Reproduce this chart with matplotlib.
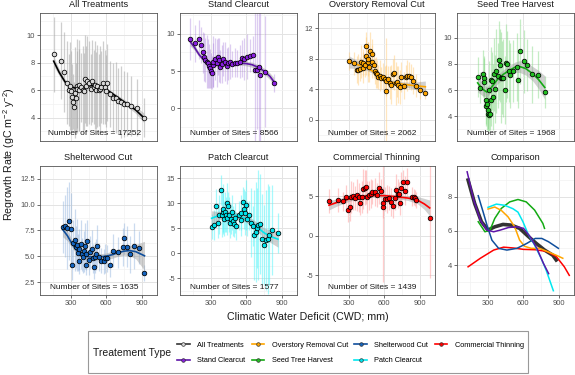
import numpy as np
import matplotlib.pyplot as plt
from matplotlib.lines import Line2D
from matplotlib.patches import Rectangle
from matplotlib.transforms import blended_transform_factory

plt.rcParams['font.family'] = ['Liberation Sans', 'DejaVu Sans']
plt.rcParams['mathtext.fontset'] = 'custom'
plt.rcParams['mathtext.rm'] = 'Liberation Sans'
plt.rcParams['mathtext.it'] = 'Liberation Sans:italic'

# ---- data ----
# All Treatments
x_all = [154, 215, 243, 264, 283, 292, 300, 306, 314, 325, 334, 342, 348, 353, 365, 372, 385, 399, 410, 418,
         430, 438, 455, 467, 475, 494, 505, 511, 525, 539, 548, 559, 573, 585, 596, 610, 630, 658, 680, 700,
         729, 751, 779, 813, 860, 917]
y_all = [8.59, 8.12, 7.34, 6.54, 6.0, 6.3, 5.95, 5.5, 5.15, 4.78, 5.8, 5.46, 6.3, 6.07, 6.34, 6.0, 6.2, 6.0, 5.9, 6.8,
         6.3, 6.66, 6.54, 6.05, 6.66, 6.2, 6.4, 6.0, 6.29, 6.0, 6.1, 6.24, 6.54, 6.2, 5.95, 6.54, 5.7, 5.46, 5.46, 5.22,
         5.15, 5.02, 4.98, 4.83, 4.73, 4.0]
sd_all = [2.7, 2.8, 2.9, 3.0, 2.6, 3.2, 2.9, 2.4, 2.0, 1.8, 3.3, 2.5, 3.4, 2.8, 3.3, 3.0, 2.5, 3.2, 2.8, 3.2,
          2.9, 3.3, 3.0, 2.6, 3.0, 2.7, 3.2, 2.8, 3.0, 2.6, 3.1, 2.6, 3.0, 2.7, 2.6, 2.8, 2.4, 2.5, 2.6, 2.4,
          2.6, 2.4, 2.3, 2.2, 2.1, 1.4]
sx_all = [154, 200, 250, 300, 350, 400, 450, 500, 550, 600, 650, 700, 750, 800, 850, 917]
sy_all = [8.1, 7.3, 6.6, 6.25, 6.1, 6.15, 6.3, 6.35, 6.3, 6.05, 5.75, 5.45, 5.15, 4.85, 4.55, 4.0]
se_all = [0.35, 0.25, 0.2, 0.18, 0.15, 0.15, 0.15, 0.15, 0.15, 0.15, 0.15, 0.15, 0.18, 0.2, 0.25, 0.35]

# Stand Clearcut
x_sc = [122, 165, 201, 215, 230, 243, 249, 264, 277, 283, 292, 298, 306, 314, 320, 334, 348, 356, 370, 376,
        390, 404, 418, 433, 447, 461, 483, 503, 525, 545, 562, 581, 602, 630, 658, 672, 695, 708, 720, 762, 833]
y_sc = [9.28, 8.74, 9.28, 8.5, 7.5, 6.86, 6.5, 6.28, 6.05, 5.7, 5.38, 5.07, 4.8, 5.83, 6.28, 6.6, 6.05, 6.95, 6.5, 5.6,
        5.96, 6.6, 6.28, 5.7, 6.05, 6.28, 5.96, 6.14, 6.05, 6.28, 6.73, 6.6, 6.95, 7.04, 7.18, 5.16, 5.16, 5.6, 4.5, 4.93, 3.45]
sd_sc = [2.8, 2.5, 2.6, 2.4, 2.8, 3.2, 3.0, 3.5, 3.3, 3.0, 2.6, 2.4, 2.2, 3.0, 3.4, 2.8, 3.2, 2.5, 3.0, 2.2,
         2.5, 2.3, 2.6, 2.4, 2.2, 2.3, 1.8, 2.0, 1.8, 2.2, 2.5, 2.8, 3.0, 2.2, 2.5, 9.5, 8.0, 10.0, 9.0, 7.5, 1.2]
sx_sc = [122, 160, 200, 250, 300, 350, 400, 450, 500, 550, 600, 650, 700, 750, 800, 833]
sy_sc = [9.0, 8.2, 7.2, 6.3, 5.85, 5.8, 5.9, 6.0, 6.05, 6.05, 6.0, 5.85, 5.5, 5.0, 4.3, 3.6]
se_sc = [0.6, 0.4, 0.3, 0.25, 0.25, 0.25, 0.25, 0.25, 0.25, 0.25, 0.3, 0.35, 0.35, 0.4, 0.45, 0.55]

# Overstory Removal Cut
x_or = [300, 342, 365, 379, 393, 401, 416, 421, 435, 441, 449, 458, 463, 472, 483, 492, 500, 511, 520, 528,
        540, 548, 562, 576, 590, 604, 613, 618, 632, 646, 660, 674, 683, 697, 708, 720, 731, 745, 765, 782,
        796, 810, 824, 844, 866, 900, 948]
y_or = [7.69, 7.45, 6.59, 6.59, 6.7, 7.65, 7.5, 6.86, 7.18, 8.35, 9.73, 7.57, 7.96, 6.98, 9.06, 8.63, 7.65, 7.25, 6.47, 6.2,
        6.0, 5.6, 5.8, 5.49, 5.69, 5.41, 3.73, 5.14, 5.41, 4.9, 4.63, 6.0, 6.2, 4.82, 5.02, 4.63, 4.35, 5.6, 4.51, 5.6,
        5.8, 5.8, 5.6, 5.14, 4.51, 3.92, 3.53]
sd_or = [1.2, 1.5, 1.8, 2.0, 1.6, 2.2, 1.8, 2.0, 1.5, 2.5, 1.8, 2.6, 2.2, 2.0, 2.5, 2.0, 2.2, 1.8, 1.7, 2.0,
         1.8, 1.6, 2.0, 1.5, 1.8, 1.6, 7.0, 2.0, 1.6, 2.2, 2.5, 2.0, 2.3, 2.8, 2.0, 2.4, 2.2, 2.0, 1.8, 1.6,
         2.0, 1.8, 1.7, 1.8, 1.5, 1.2, 0.8]
sx_or = [300, 350, 400, 450, 500, 550, 600, 650, 700, 750, 800, 850, 900, 948]
sy_or = [7.6, 7.35, 7.1, 6.85, 6.4, 5.8, 5.35, 5.0, 4.8, 4.7, 4.6, 4.5, 4.42, 4.35]
se_or = [0.8, 0.6, 0.45, 0.35, 0.3, 0.3, 0.3, 0.3, 0.3, 0.3, 0.35, 0.45, 0.6, 0.75]

# Seed Tree Harvest
x_st = [213, 232, 255, 266, 269, 281, 283, 289, 297, 303, 308, 311, 317, 323, 325, 331, 340, 351, 359, 368,
        382, 393, 401, 410, 421, 430, 444, 452, 463, 475, 486, 514, 543, 556, 571, 604, 632, 678, 725, 782]
y_st = [7.0, 6.18, 7.25, 6.95, 6.62, 5.22, 4.76, 4.96, 4.45, 4.2, 4.07, 6.0, 4.15, 5.22, 6.8, 6.7, 5.47, 7.2, 6.1, 7.45,
        7.1, 8.27, 7.9, 6.95, 6.95, 6.92, 6.03, 8.07, 7.96, 7.45, 7.12, 7.45, 7.8, 6.8, 8.96, 8.2, 7.9, 7.2, 7.18, 5.85]
sd_st = [1.5, 1.2, 1.8, 1.5, 2.0, 1.8, 1.5, 2.0, 1.4, 1.3, 1.2, 2.2, 1.2, 2.0, 2.5, 2.2, 2.5, 2.8, 2.6, 3.2,
         2.5, 3.0, 2.8, 3.5, 2.8, 3.0, 2.6, 3.0, 2.6, 2.4, 2.5, 2.4, 2.6, 2.2, 2.5, 2.4, 2.0, 2.2, 1.8, 1.2]
sx_st = [213, 250, 290, 330, 380, 430, 480, 530, 570, 620, 680, 730, 782]
sy_st = [6.55, 6.1, 5.85, 6.2, 6.8, 7.2, 7.5, 7.75, 7.8, 7.65, 7.25, 6.8, 6.2]
se_st = [0.7, 0.5, 0.4, 0.35, 0.35, 0.35, 0.35, 0.4, 0.45, 0.5, 0.55, 0.7, 0.9]

# Shelterwood Cut
x_sw = [230, 249, 264, 283, 300, 310, 320, 334, 342, 353, 362, 366, 370, 382, 390, 399, 410, 418, 427, 432,
        438, 450, 461, 475, 489, 500, 505, 517, 522, 539, 559, 583, 590, 605, 630, 660, 700, 742, 748, 779,
        797, 838, 880, 924]
y_sw = [7.85, 7.94, 7.75, 8.4, 7.6, 4.2, 6.3, 6.57, 5.9, 6.1, 5.34, 4.5, 5.67, 6.16, 5.2, 4.93, 5.48, 6.0, 5.2, 4.2,
        6.5, 4.66, 5.4, 5.75, 4.8, 4.0, 4.93, 5.2, 6.0, 4.93, 4.58, 4.5, 4.8, 4.8, 4.2, 5.55, 5.4, 5.9, 6.76, 5.94,
        5.2, 6.0, 5.83, 3.4]
sd_sw = [2.5, 3.0, 4.0, 3.8, 3.5, 1.5, 2.2, 3.0, 2.0, 2.5, 1.8, 1.2, 2.0, 2.4, 1.6, 1.5, 2.0, 2.2, 1.5, 1.0,
         2.0, 1.5, 1.6, 1.8, 1.4, 1.2, 1.5, 1.5, 2.0, 1.4, 1.2, 1.2, 1.4, 1.3, 1.2, 1.6, 1.5, 1.8, 1.5, 2.0,
         1.8, 2.2, 1.6, 0.8]
sx_sw = [230, 270, 310, 350, 400, 450, 500, 550, 600, 650, 700, 750, 800, 850, 924]
sy_sw = [7.6, 7.0, 6.2, 5.55, 5.1, 4.95, 4.93, 4.95, 5.02, 5.15, 5.35, 5.5, 5.55, 5.45, 5.05]
se_sw = [0.7, 0.5, 0.4, 0.35, 0.3, 0.3, 0.3, 0.3, 0.3, 0.35, 0.35, 0.4, 0.5, 0.7, 1.4]

# Patch Clearcut
x_pc = [306, 325, 342, 356, 368, 382, 390, 399, 404, 410, 418, 427, 433, 438, 447, 455, 461, 469, 478, 489,
        494, 503, 517, 537, 551, 559, 573, 581, 590, 596, 607, 624, 644, 658, 666, 680, 692, 703, 720, 737,
        751, 765, 784, 793, 818, 869]
y_pc = [5.3, 5.63, 9.38, 6.14, 7.76, 12.6, 7.76, 8.2, 8.86, 6.9, 8.2, 7.76, 10.0, 7.1, 9.38, 7.76, 6.14, 6.9, 8.2, 6.47,
        5.82, 7.1, 5.5, 7.57, 6.66, 8.08, 10.35, 8.86, 8.08, 9.7, 6.9, 7.57, 6.14, 5.5, 3.7, 4.2, 5.0, 5.63, 5.82, 2.9,
        1.6, 2.6, 2.9, 3.55, 4.7, 4.07]
sd_pc = [2.5, 3.0, 3.5, 3.0, 4.0, 3.0, 4.5, 4.0, 5.0, 3.5, 4.0, 3.5, 4.0, 3.5, 3.0, 3.5, 3.0, 3.0, 3.5, 3.0,
         2.5, 3.0, 2.8, 3.0, 3.2, 3.5, 3.0, 4.0, 4.5, 5.0, 3.5, 3.0, 7.0, 4.0, 9.0, 10.0, 8.0, 11.0, 10.0, 9.0,
         8.0, 10.0, 11.0, 10.0, 9.0, 4.0]
sx_pc = [306, 350, 400, 450, 500, 550, 600, 650, 700, 750, 800, 869]
sy_pc = [7.0, 7.4, 7.75, 7.8, 7.65, 7.35, 6.9, 6.1, 5.1, 4.1, 3.4, 2.8]
se_pc = [1.5, 1.0, 0.7, 0.6, 0.6, 0.6, 0.7, 0.8, 0.9, 1.0, 1.2, 1.6]

# Commercial Thinning
x_ct = [131, 210, 247, 275, 294, 308, 314, 336, 351, 370, 385, 393, 407, 421, 435, 449, 455, 472, 486, 500,
        520, 534, 554, 568, 585, 590, 604, 624, 641, 661, 674, 689, 697, 717, 725, 731, 745, 759, 773, 796,
        838, 849, 858, 866, 985]
y_ct = [4.36, 4.47, 4.36, 4.85, 3.22, 3.6, 4.92, 5.0, 4.73, 5.1, 4.85, 4.1, 4.85, 5.87, 6.06, 6.14, 4.92, 5.1, 5.3, 5.5,
        5.5, 5.1, 5.98, 5.6, 3.6, 4.17, 4.62, 4.62, 4.73, 4.24, 3.7, 4.73, 5.76, 5.3, 5.22, 4.1, 6.06, 6.74, 5.68, 6.8,
        4.92, 4.85, 4.73, 4.55, 2.2]
sd_ct = [1.5, 1.5, 1.2, 1.5, 1.5, 1.8, 2.0, 1.8, 1.5, 2.0, 1.8, 1.5, 2.0, 2.5, 2.2, 2.2, 2.0, 1.8, 1.8, 1.5,
         1.8, 1.5, 2.0, 1.6, 9.5, 2.0, 1.5, 1.8, 1.5, 1.8, 1.5, 1.5, 2.0, 1.8, 1.5, 1.5, 2.0, 1.6, 1.8, 1.8,
         1.2, 1.0, 1.0, 1.0, 7.5]
sx_ct = [131, 200, 300, 400, 500, 600, 700, 800, 880, 940, 985]
sy_ct = [3.85, 4.2, 4.62, 4.95, 5.08, 5.05, 4.92, 4.75, 4.5, 4.0, 3.5]
se_ct = [0.6, 0.45, 0.3, 0.25, 0.25, 0.25, 0.25, 0.3, 0.45, 0.7, 1.0]

# Comparison curves
cx_all = [132, 188, 245, 301, 358, 428, 498, 569, 639, 710, 780, 850, 879]
cy_all = [8.98, 7.6, 6.54, 6.05, 6.24, 6.38, 6.34, 6.15, 5.7, 5.27, 4.88, 4.58, 4.3]
cx_sc = [124, 180, 236, 292, 349, 405, 475, 546, 602, 658, 715, 771, 815]
cy_sc = [9.46, 7.8, 6.63, 6.05, 5.95, 6.05, 6.2, 6.24, 6.15, 5.66, 4.98, 4.1, 3.5]
cx_or = [301, 358, 414, 470, 527, 569, 611, 668, 738, 808, 879, 935]
cy_or = [7.28, 7.4, 7.2, 6.83, 6.24, 5.46, 5.1, 4.98, 4.98, 4.78, 4.58, 4.4]
cx_st = [218, 275, 318, 358, 414, 485, 555, 625, 696, 766, 780]
cy_st = [6.54, 5.95, 6.05, 6.73, 7.32, 7.7, 7.84, 7.7, 7.22, 6.44, 6.15]
cx_sw = [218, 260, 292, 334, 391, 461, 546, 630, 701, 757, 813, 898]
cy_sw = [8.06, 7.1, 6.34, 5.46, 4.98, 4.88, 4.98, 5.27, 5.56, 5.56, 5.37, 4.98]
cx_pc = [301, 372, 442, 512, 555, 597, 639, 696, 752, 794, 855]
cy_pc = [7.38, 7.57, 7.5, 7.3, 7.1, 6.54, 5.85, 5.17, 4.39, 3.7, 2.5]
cx_ct = [132, 236, 349, 433, 518, 602, 700, 800, 880, 948, 990]
cy_ct = [3.9, 4.4, 4.88, 5.05, 5.0, 4.92, 4.9, 4.8, 4.5, 3.9, 3.4]

n_sites = [17252, 8566, 2062, 1968, 1635, 1577, 1439]
names = ['All Treatments', 'Stand Clearcut', 'Overstory Removal Cut', 'Seed Tree Harvest',
         'Shelterwood Cut', 'Patch Clearcut', 'Commercial Thinning']

# colours: (point fill, line, error bar, error bar alpha)
C_ALL = ('#D9D9D9', '#000000', '#A6A6A6', 0.55)
C_SC = ('#8A1FE0', '#5E14A8', '#A070D8', 0.35)
C_OR = ('#FFA500', '#FFA500', '#FFC870', 0.45)
C_ST = ('#22C022', '#13AA13', '#7FD87F', 0.45)
C_SW = ('#1565C0', '#0F4E9C', '#8CB0DC', 0.45)
C_PC = ('#00E5EE', '#00E8F0', '#50F5FA', 0.5)
C_CT = ('#FF0000', '#FF0000', '#FF9A9A', 0.5)

# ---- layout ----
W, H = 575, 375
fig = plt.figure(figsize=(W / 100, H / 100), dpi=100)
col_left = [40, 180, 318, 457]
pw = 117
rows = [(13, 141), (166, 295)]


def make_ax(col, row):
    t, b = rows[row]
    return fig.add_axes([col_left[col] / W, 1 - b / H, pw / W, (b - t) / H])


def style(ax, ylim, yticks, ylabels, title, bottom):
    ax.set_xlim(38, 1030)
    ax.set_ylim(*ylim)
    ax.set_xticks([300, 600, 900])
    ax.set_xticks([150, 450, 750], minor=True)
    ax.set_yticks(yticks)
    ax.set_yticklabels(ylabels)
    mids = [(a + b) / 2 for a, b in zip(yticks[:-1], yticks[1:])]
    mids = [yticks[0] - (yticks[1] - yticks[0]) / 2] + mids + [yticks[-1] + (yticks[1] - yticks[0]) / 2]
    ax.set_yticks(mids, minor=True)
    ax.grid(which='major', color='#E3E3E3', lw=0.7)
    ax.grid(which='minor', color='#F2F2F2', lw=0.5)
    ax.set_axisbelow(True)
    for s in ax.spines.values():
        s.set_color('#555555')
        s.set_linewidth(0.6)
    ax.tick_params(which='minor', length=0)
    ax.tick_params(axis='y', which='major', length=2.2, width=0.5, color='#333333',
                   labelsize=5.4, labelcolor='#4D4D4D', pad=1.5)
    if bottom:
        ax.tick_params(axis='x', which='major', length=2.2, width=0.5, color='#333333',
                       labelsize=5.4, labelcolor='#4D4D4D', pad=1.5)
    else:
        ax.tick_params(axis='x', which='major', length=0, labelbottom=False)
    ax.text(0.5, 1 + 8.5 / 128, title, transform=ax.transAxes, ha='center', va='center',
            fontsize=6.6, color='#1A1A1A')


def draw(ax, x, y, sd, sx, sy, se, colors, n):
    fill, line, bar, alpha = colors
    x, y, sd = np.array(x), np.array(y), np.array(sd)
    sx, sy, se = np.array(sx), np.array(sy), np.array(se)
    ax.vlines(x, y - sd, y + sd, color=bar, alpha=alpha, lw=0.9, zorder=2)
    ax.fill_between(sx, sy - se, sy + se, color='#999999', alpha=0.45, lw=0, zorder=3)
    ax.plot(sx, sy, color=line, lw=1.2, zorder=4)
    ax.scatter(x, y, s=11, c=fill, edgecolors='black', linewidths=0.55, zorder=5)
    tr = blended_transform_factory(ax.transData, ax.transAxes)
    ax.text(500, 0.055, 'Number of Sites = %d' % n, transform=tr, ha='center', va='center',
            fontsize=6.0, color='#1A1A1A', zorder=6)


panels = [
    (0, 0, (2.3, 11.6), [4, 6, 8, 10], ['4', '6', '8', '10'],
     x_all, y_all, sd_all, sx_all, sy_all, se_all, C_ALL),
    (1, 0, (-4.4, 12.8), [0, 5, 10], ['0', '5', '10'],
     x_sc, y_sc, sd_sc, sx_sc, sy_sc, se_sc, C_SC),
    (2, 0, (-2.75, 12.3), [0, 4, 8, 12], ['0', '4', '8', '12'],
     x_or, y_or, sd_or, sx_or, sy_or, se_or, C_OR),
    (3, 0, (2.1, 11.9), [4, 6, 8, 10], ['4', '6', '8', '10'],
     x_st, y_st, sd_st, sx_st, sy_st, se_st, C_ST),
    (0, 1, (2.2, 12.8), [2.5, 5, 7.5, 10, 12.5], ['2.5', '5.0', '7.5', '10.0', '12.5'],
     x_sw, y_sw, sd_sw, sx_sw, sy_sw, se_sw, C_SW),
    (1, 1, (-8.4, 16.6), [-5, 0, 5, 10, 15], ['-5', '0', '5', '10', '15'],
     x_pc, y_pc, sd_pc, sx_pc, sy_pc, se_pc, C_PC),
    (2, 1, (-5.9, 8.8), [-5, 0, 5], ['-5', '0', '5'],
     x_ct, y_ct, sd_ct, sx_ct, sy_ct, se_ct, C_CT),
]

for i, p in enumerate(panels):
    col, row, ylim, yt, yl = p[:5]
    ax = make_ax(col, row)
    style(ax, ylim, yt, yl, names[i], row == 1)
    draw(ax, *p[5:11], p[11], n_sites[i])

# comparison panel
ax = make_ax(3, 1)
style(ax, (2.25, 9.8), [4, 6, 8], ['4', '6', '8'], 'Comparison', True)
ax.plot(cx_all, cy_all, color='#333333', lw=2.6, zorder=3)
for cx, cy, c in [(cx_ct, cy_ct, C_CT), (cx_st, cy_st, C_ST), (cx_or, cy_or, C_OR),
                  (cx_sw, cy_sw, C_SW), (cx_pc, cy_pc, C_PC), (cx_sc, cy_sc, C_SC)]:
    ax.plot(cx, cy, color=c[1], lw=1.1, zorder=4)

# axis titles
fig.text(9 / W, 1 - 154 / H, r'Regrowth Rate (gC m$^{-2}$ y$^{-2}$)', rotation=90,
         ha='center', va='center', fontsize=7.7, color='#1A1A1A')
fig.text(308 / W, 1 - 317 / H, 'Climatic Water Deficit (CWD; mm)', ha='center', va='center',
         fontsize=7.7, color='#1A1A1A')

# legend
handles = []
for nm, c in zip(names, [C_ALL, C_SC, C_OR, C_ST, C_SW, C_PC, C_CT]):
    lc = '#333333' if nm == 'All Treatments' else c[1]
    handles.append(Line2D([0], [0], color=lc, lw=1.2, marker='o', markersize=2.6,
                          markerfacecolor=c[0], markeredgecolor='#333333', markeredgewidth=0.5,
                          label=nm))
fig.legend(handles=handles, ncol=4, loc='center left', bbox_to_anchor=(177 / W, 1 - 353 / H),
           frameon=False, fontsize=5.3, handlelength=1.7, handletextpad=1.0, columnspacing=0.9,
           labelspacing=1.15, borderpad=0, borderaxespad=0)
fig.text(93 / W, 1 - 353 / H, 'Treatement Type', ha='left', va='center', fontsize=7.5, color='#1A1A1A')
fig.patches.append(Rectangle((88 / W, 1 - 373 / H), 440 / W, 42 / H, transform=fig.transFigure,
                             fill=False, edgecolor='#999999', lw=0.8))

fig.savefig('out.png', dpi=100)
